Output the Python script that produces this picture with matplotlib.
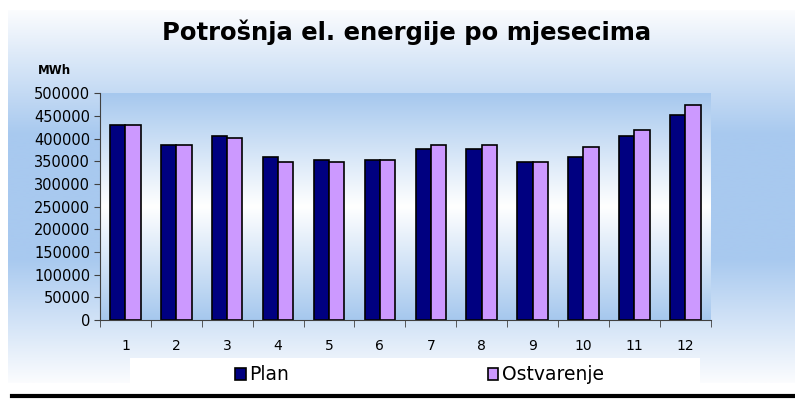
import numpy as np
import matplotlib.pyplot as plt
from matplotlib.colors import LinearSegmentedColormap
from matplotlib.patches import Rectangle

months = ["1", "2", "3", "4", "5", "6", "7", "8", "9", "10", "11", "12"]
plan = [430000, 385000, 405000, 360000, 352000, 352000, 376000, 376000, 348000, 360000, 405000, 453000]
ostvarenje = [430000, 385000, 401000, 348000, 348000, 352000, 385000, 385000, 348000, 381000, 418000, 473000]
yticks = [0, 50000, 100000, 150000, 200000, 250000, 300000, 350000, 400000, 450000, 500000]

plt.rcParams['font.family'] = ['DejaVu Sans']

fig = plt.figure(figsize=(7.95, 4), dpi=100)

# figure background gradient (pale - blue - pale)
bg_cmap = LinearSegmentedColormap.from_list("bg", ["#fbfcfe", "#a8c9ef", "#a8c9ef", "#fbfcfe"])
bg = fig.add_axes([8 / 795, 1 - 383 / 400, 1 - 8 / 795, 373 / 400])
bg.imshow(np.linspace(0, 1, 256).reshape(-1, 1), cmap=bg_cmap, aspect="auto",
          extent=[0, 1, 0, 1])
bg.axis("off")

# white legend box and bottom black line
fig.patches.append(Rectangle((130 / 795, 1 - 385 / 400), 570 / 795, 27 / 400,
                             transform=fig.transFigure, facecolor="white",
                             edgecolor="none", zorder=1))
fig.add_artist(plt.Line2D([12 / 795, 1], [1 - 396 / 400, 1 - 396 / 400],
                          color="black", lw=3, transform=fig.transFigure))

ax = fig.add_axes([100 / 795, 0.2, 610.7 / 795, 0.567])
pa_cmap = LinearSegmentedColormap.from_list("pa", ["#a6c8ee", "#ffffff", "#a6c8ee"])
ax.imshow(np.linspace(0, 1, 256).reshape(-1, 1), cmap=pa_cmap, aspect="auto",
          extent=[0, 1, 0, 1], transform=ax.transAxes, zorder=0)

x = np.arange(len(months))
w = 0.3
ax.bar(x - w / 2, plan, w, color="#000080", edgecolor="black", lw=1.2,
       label="Plan", zorder=2)
ax.bar(x + w / 2, ostvarenje, w, color="#cc99ff", edgecolor="black", lw=1.2,
       label="Ostvarenje", zorder=2)

ax.set_xlim(-0.5, len(months) - 0.5)
ax.set_ylim(0, 500000)
ax.set_yticks(yticks)
ax.set_yticklabels([str(v) for v in yticks], fontsize=10.5)
ax.set_xticks(x)
ax.set_xticklabels(months, fontsize=10)
ax.set_xticks(np.arange(-0.5, len(months)), minor=True)
ax.tick_params(axis="x", which="major", length=0, pad=14)
ax.tick_params(axis="x", which="minor", length=5, color="#404040")
ax.tick_params(axis="y", length=4, color="#404040", pad=3)
for s in ["top", "right"]:
    ax.spines[s].set_visible(False)
for s in ["left", "bottom"]:
    ax.spines[s].set_color("#404040")

fig.text(0.511, 0.92, "Potrošnja el. energije po mjesecima", ha="center",
         va="center", fontsize=17.5, fontweight="bold")
fig.text(0.069, 0.825, "MWh", ha="center", va="center", fontsize=8.5,
         fontweight="bold")

fig.legend(loc="center", bbox_to_anchor=(0.528, 1 - 375 / 400), ncol=2,
           frameon=False, fontsize=13.5, handlelength=0.55, handleheight=0.55,
           handletextpad=0.2, columnspacing=10.6)

fig.savefig("out.png", dpi=100)
